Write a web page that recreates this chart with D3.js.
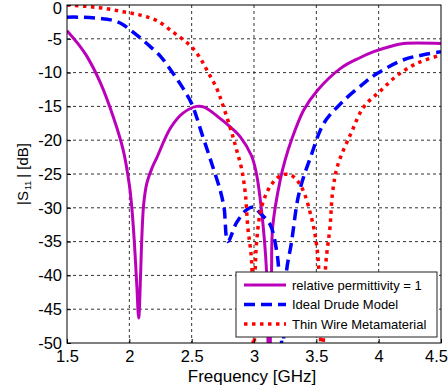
<!DOCTYPE html>
<html>
<head>
<meta charset="utf-8">
<script src="https://cdn.jsdelivr.net/npm/d3@7"></script>
<style>
  body { margin: 0; background: #fff; }
  svg { display: block; font-family: "Liberation Sans", Arial, sans-serif; }
</style>
</head>
<body>
<div id="chart"></div>
<script>
// frequency [GHz], |S11| [dB]
const relPermittivity = [
    [1.5, -3.8], [1.6, -6.0], [1.66, -7.6], [1.77, -11.6], [1.87, -16.5], [1.95, -21.4],
    [2.0, -26.6], [2.02, -30], [2.04, -35], [2.06, -41.5], [2.075, -46.3], [2.09, -40],
    [2.1, -34.5], [2.115, -29.5], [2.14, -26.4], [2.18, -24.2], [2.22, -22.6], [2.33, -18.2],
    [2.43, -16], [2.54, -15.0], [2.6, -15.1], [2.73, -16.8], [2.82, -18.2], [2.89, -19.5],
    [2.98, -22.3], [3.02, -25], [3.06, -30.3], [3.1, -39.2], [3.12, -58], [3.14, -40],
    [3.15, -32.8], [3.21, -25.9], [3.25, -22.9], [3.3, -20], [3.4, -15.5], [3.51, -12.6],
    [3.7, -9.3], [3.85, -7.8], [3.96, -6.9], [4.1, -6.1], [4.2, -5.7], [4.5, -5.7]
];
const drudeModel = [
    [1.5, -1.8], [1.6, -1.8], [1.77, -2.0], [1.85, -2.2], [1.93, -2.7], [2.03, -4.0],
    [2.14, -5.7], [2.25, -7.6], [2.35, -10.1], [2.43, -12.3], [2.5, -14.6], [2.59, -19.5],
    [2.66, -23.4], [2.73, -27.5], [2.76, -30], [2.79, -35], [2.86, -32.2], [2.94, -30.3],
    [3.0, -29.9], [3.05, -30.8], [3.13, -32.5], [3.18, -36.2], [3.2, -39.5], [3.23, -52],
    [3.26, -39.5], [3.3, -35.2], [3.35, -28.8], [3.39, -25.9], [3.45, -22.7], [3.56, -17.5],
    [3.7, -14.5], [3.88, -11.6], [3.99, -10.1], [4.2, -8.1], [4.35, -7.4], [4.5, -6.9]
];
const thinWire = [
    [1.5, 0], [1.65, -0.2], [1.8, -0.5], [1.95, -1.0], [2.09, -1.5], [2.22, -2.3],
    [2.35, -4.0], [2.45, -5.4], [2.5, -6.2], [2.57, -7.9], [2.63, -9.9], [2.7, -12.3],
    [2.75, -14.8], [2.82, -18.8], [2.86, -21.4], [2.9, -24.2], [2.93, -27.8], [2.95, -32.8],
    [2.98, -37.7], [3.0, -55], [3.02, -35.2], [3.07, -29.3], [3.15, -26.3], [3.23, -25.1],
    [3.3, -25.2], [3.38, -26.9], [3.46, -31.4], [3.5, -35.2], [3.52, -39.2], [3.545, -56],
    [3.575, -38.5], [3.61, -32.8], [3.63, -27.8], [3.67, -23.8], [3.78, -18.9], [3.88, -15.1],
    [4.02, -12.6], [4.15, -10.4], [4.31, -8.6], [4.5, -7.4]
];

const xTicks = [1.5, 2, 2.5, 3, 3.5, 4, 4.5];
const yTicks = [0, -5, -10, -15, -20, -25, -30, -35, -40, -45, -50];
const legendLabels = ['relative permittivity = 1', 'Ideal Drude Model', 'Thin Wire Metamaterial'];

const svgWidth = 448;
const svgHeight = 392;
const margins = {t: 5, r: 7, b: 49, l: 67};
const graphWidth = svgWidth - margins.l - margins.r;
const graphHeight = svgHeight - margins.t - margins.b;

const svg = d3.select('#chart')
    .append('svg')
    .attr('width', svgWidth)
    .attr('height', svgHeight);

const g = svg.append('g').attr('transform', `translate(${margins.l},${margins.t})`);

const x = d3.scaleLinear().domain([1.5, 4.5]).range([0, graphWidth]);
const y = d3.scaleLinear().domain([-50, 0]).range([graphHeight, 0]);

svg.append('defs').append('clipPath').attr('id', 'plotClip')
    .append('rect').attr('width', graphWidth).attr('height', graphHeight);

// grid
g.selectAll('line.vgrid')
    .data(xTicks.slice(1, -1))
    .join('line')
    .attr('class', 'vgrid')
    .attr('x1', d => x(d)).attr('x2', d => x(d))
    .attr('y1', 0).attr('y2', graphHeight)
    .attr('stroke', '#333').attr('stroke-width', 1).attr('stroke-dasharray', '3,3');

g.selectAll('line.hgrid')
    .data(yTicks.slice(1, -1))
    .join('line')
    .attr('class', 'hgrid')
    .attr('x1', 0).attr('x2', graphWidth)
    .attr('y1', d => y(d)).attr('y2', d => y(d))
    .attr('stroke', '#333').attr('stroke-width', 1).attr('stroke-dasharray', '3,3');

// curves
const series = [
    {name: legendLabels[0], data: relPermittivity, color: '#bb00bb', width: 3, dash: null},
    {name: legendLabels[1], data: drudeModel, color: '#0000ff', width: 3.5, dash: '11,6'},
    {name: legendLabels[2], data: thinWire, color: '#ff0000', width: 3.5, dash: '3.5,4.5'}
];

const line = d3.line()
    .x(d => x(d[0]))
    .y(d => y(d[1]))
    .curve(d3.curveCatmullRom.alpha(0.5));

g.append('g').attr('clip-path', 'url(#plotClip)')
    .selectAll('path.curve')
    .data(series)
    .join('path')
    .attr('class', 'curve')
    .attr('fill', 'none')
    .attr('stroke', d => d.color)
    .attr('stroke-width', d => d.width)
    .attr('stroke-dasharray', d => d.dash)
    .attr('d', d => line(d.data));

// axes
const xAxis = g.append('g')
    .attr('transform', `translate(0,${graphHeight})`)
    .call(d3.axisBottom(x).tickValues(xTicks).tickFormat(d3.format('')).tickSize(-4).tickPadding(7));

const yAxis = g.append('g')
    .call(d3.axisLeft(y).tickValues(yTicks).tickFormat(d => String(d)).tickSize(-4).tickPadding(5));

[xAxis, yAxis].forEach(a => {
    a.select('.domain').remove();
    a.selectAll('.tick line').attr('stroke', '#000');
    a.selectAll('.tick text')
        .style('font-size', '16.5px')
        .style('font-family', '"Liberation Sans", Arial, sans-serif')
        .attr('fill', '#000');
});
// keep the edge labels inside the page
yAxis.selectAll('.tick text').filter(d => d === 0).attr('dy', '0.5em');
xAxis.selectAll('.tick text').filter(d => d === 4.5).attr('dx', -5);

g.append('rect')
    .attr('width', graphWidth).attr('height', graphHeight)
    .attr('fill', 'none').attr('stroke', '#000').attr('stroke-width', 1);

// axis titles
svg.append('text')
    .attr('x', margins.l + graphWidth / 2 - 2)
    .attr('y', 382)
    .attr('text-anchor', 'middle')
    .style('font-size', '17px')
    .text('Frequency [GHz]');

const yTitle = svg.append('text')
    .attr('transform', `translate(28,${margins.t + graphHeight / 2}) rotate(-90)`)
    .attr('text-anchor', 'middle')
    .style('font-size', '15px');
yTitle.append('tspan').text('|S');
yTitle.append('tspan').attr('dx', 1).attr('dy', 3).style('font-size', '9px').text('11');
yTitle.append('tspan').attr('dx', 3).attr('dy', -3).text('| [dB]');

// legend
const legend = svg.append('g').attr('transform', 'translate(236,272)');
legend.append('rect')
    .attr('width', 201).attr('height', 65)
    .attr('fill', '#fff').attr('stroke', '#222').attr('stroke-width', 1);

const rows = legend.selectAll('g.row')
    .data(series)
    .join('g')
    .attr('class', 'row')
    .attr('transform', (d, i) => `translate(0,${13 + i * 19.5})`);

rows.append('line')
    .attr('x1', 8).attr('x2', 50)
    .attr('stroke', d => d.color)
    .attr('stroke-width', d => d.width)
    .attr('stroke-dasharray', d => d.dash);

rows.append('text')
    .attr('x', 56)
    .attr('dy', '0.35em')
    .style('font-size', '13px')
    .text(d => d.name);
</script>
</body>
</html>
